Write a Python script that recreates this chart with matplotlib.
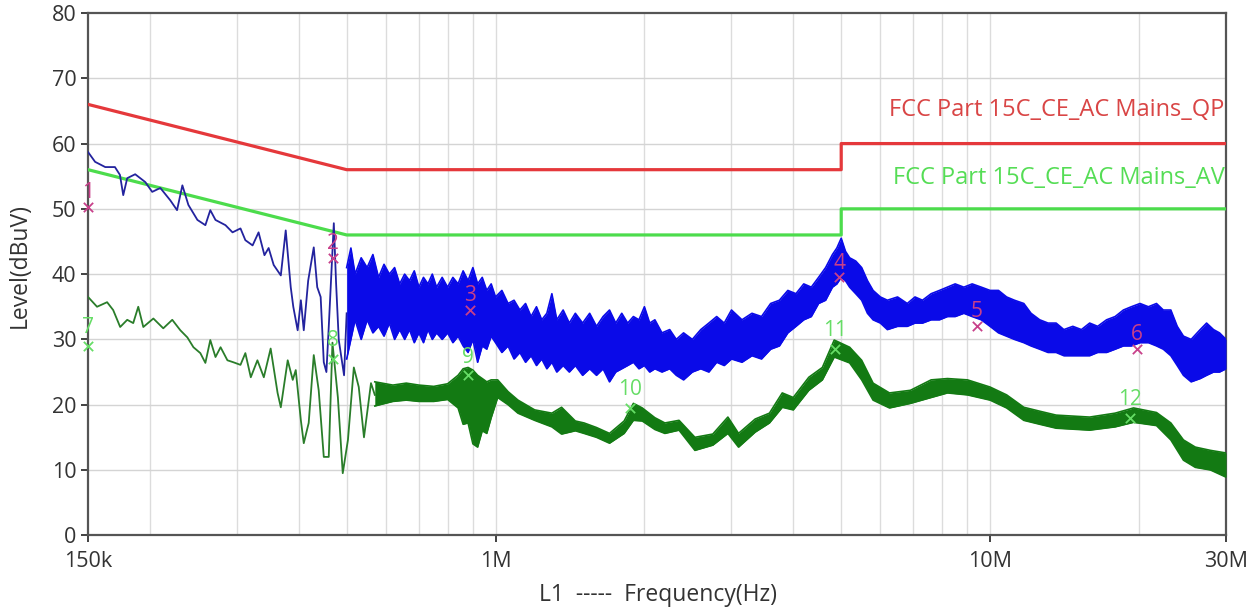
import matplotlib
matplotlib.use("Agg")
import matplotlib.pyplot as plt
from matplotlib.ticker import FixedLocator, NullFormatter

plt.rcParams['font.family'] = ['Open Sans', 'DejaVu Sans']

# limit lines (MHz, dBuV)
qp_f = [0.15, 0.5, 5.0, 5.0, 30.0]
qp_lv = [66, 56, 56, 60, 60]
av_f = [0.15, 0.5, 5.0, 5.0, 30.0]
av_lv = [56, 46, 46, 50, 50]

# peak trace, low frequency part (single line)
pk_f = [0.150, 0.155, 0.1625, 0.170, 0.174, 0.1767, 0.180, 0.1868, 0.1958, 0.2022,
        0.210, 0.220, 0.227, 0.2327, 0.2393, 0.2496, 0.259, 0.265, 0.2715, 0.2844,
        0.2939, 0.305, 0.312, 0.3227, 0.3318, 0.341, 0.3477, 0.356, 0.368, 0.3765,
        0.3854, 0.390, 0.398, 0.404, 0.4095, 0.418, 0.429, 0.436, 0.443, 0.4495,
        0.455, 0.460, 0.471, 0.476, 0.482, 0.494, 0.500]
pk_lv = [58.7, 57.2, 56.4, 56.4, 55.2, 52.1, 54.7, 55.3, 54.1, 52.6,
         53.2, 51.3, 49.8, 53.6, 50.6, 48.3, 47.5, 49.8, 48.3, 47.5,
         46.4, 47.0, 45.2, 44.4, 46.4, 42.9, 44.0, 41.4, 39.8, 46.7,
         38.0, 35.0, 31.4, 36.0, 31.4, 39.0, 44.1, 38.0, 36.5, 26.5,
         25.0, 31.9, 47.8, 38.6, 29.9, 24.5, 34.0]

# peak trace, dense part (upper / lower edge of the noise band)
pkb_f = [0.50, 0.51, 0.52, 0.535, 0.55, 0.565, 0.58, 0.595, 0.61, 0.625,
         0.64, 0.655, 0.67, 0.685, 0.70, 0.715, 0.73, 0.745, 0.76, 0.78,
         0.80, 0.82, 0.84, 0.86, 0.88, 0.90, 0.92, 0.94, 0.96, 0.98,
         1.00, 1.03, 1.06, 1.09, 1.12, 1.15, 1.18, 1.21, 1.24, 1.27,
         1.30, 1.33, 1.37, 1.41, 1.45, 1.50, 1.55, 1.60, 1.65, 1.70,
         1.75, 1.80, 1.85, 1.90, 1.95, 2.00, 2.05, 2.10, 2.17, 2.25,
         2.32, 2.40, 2.50, 2.60, 2.70, 2.80, 2.90, 3.00, 3.15, 3.30,
         3.45, 3.60, 3.75, 3.90, 4.05, 4.20, 4.35, 4.50, 4.65, 4.80,
         4.90, 5.00, 5.10, 5.20, 5.35, 5.50, 5.65, 5.80, 6.00, 6.20,
         6.50, 6.80, 7.05, 7.30, 7.60, 7.90, 8.20, 8.50, 8.85, 9.20,
         9.60, 10.0, 10.4, 10.8, 11.2, 11.7, 12.1, 12.6, 13.1, 13.6,
         14.1, 14.7, 15.3, 15.9, 16.5, 17.2, 17.9, 18.6, 19.3, 20.1,
         20.9, 21.7, 22.4, 23.2, 23.9, 24.6, 25.5, 26.6, 27.4, 28.3,
         29.1, 30.0]
pkb_hi = [41.0, 44.0, 40.0, 42.5, 41.0, 43.0, 39.5, 41.5, 40.0, 41.0,
          38.5, 40.0, 39.0, 40.5, 38.0, 39.5, 38.5, 40.0, 38.0, 39.5,
          38.0, 39.5, 38.5, 40.5, 39.0, 41.0, 38.5, 39.5, 37.5, 38.5,
          36.5, 37.5, 35.5, 36.0, 34.5, 35.5, 33.5, 35.0, 33.0, 34.0,
          37.0, 33.0, 34.5, 32.5, 34.0, 32.5, 34.0, 32.0, 33.5, 34.5,
          32.5, 34.0, 32.5, 33.5, 33.0, 35.0, 32.5, 33.0, 31.0, 31.5,
          30.0, 31.0, 30.0, 31.5, 32.5, 33.5, 32.5, 34.5, 33.0, 34.0,
          33.5, 35.5, 36.0, 37.5, 37.0, 38.5, 38.0, 39.5, 41.0, 43.0,
          44.0, 45.5, 43.5, 42.5, 42.0, 41.0, 39.0, 37.5, 36.5, 36.0,
          36.5, 35.5, 36.5, 36.0, 37.0, 37.5, 38.0, 38.5, 38.0, 38.5,
          38.0, 37.5, 37.5, 36.5, 36.0, 35.5, 34.0, 33.0, 32.5, 32.5,
          31.5, 32.0, 31.5, 32.5, 32.0, 33.0, 33.5, 34.5, 35.0, 35.5,
          35.0, 35.5, 34.5, 34.5, 32.0, 30.5, 30.0, 31.5, 32.5, 31.5,
          31.0, 30.0]
pkb_lo = [27.0, 30.0, 33.0, 30.0, 33.0, 31.0, 32.0, 30.5, 32.5, 30.0,
          31.5, 30.0, 31.5, 29.5, 31.0, 29.5, 31.5, 30.0, 31.0, 30.0,
          31.0, 29.5, 30.5, 29.0, 28.0, 30.0, 26.5, 29.0, 28.5, 30.5,
          29.5, 28.0, 29.0, 27.0, 28.0, 26.5, 27.5, 26.0, 27.0, 25.5,
          26.5, 25.0, 26.0, 25.0, 26.0, 24.5, 25.5, 24.5, 25.5, 23.5,
          25.0, 25.5, 26.0, 26.5, 25.5, 26.0, 25.0, 25.5, 25.0, 25.5,
          24.5, 23.8, 25.0, 25.5, 25.0, 26.5, 26.0, 27.0, 26.5, 27.5,
          27.0, 28.5, 29.0, 31.0, 32.0, 33.0, 33.5, 35.5, 36.0, 38.0,
          38.5, 39.5, 39.0, 38.0, 37.0, 36.0, 34.0, 33.0, 32.5, 31.5,
          32.0, 32.0, 32.5, 32.5, 33.0, 33.0, 33.5, 33.5, 34.0, 33.5,
          33.0, 32.0, 31.0, 30.5, 30.0, 29.5, 29.0, 28.5, 28.0, 28.0,
          27.5, 27.5, 27.5, 27.5, 28.0, 28.0, 28.5, 29.0, 29.0, 29.5,
          29.5, 29.0, 28.5, 27.5, 26.0, 24.5, 23.5, 24.0, 24.5, 25.0,
          25.0, 25.5]

# average trace, low frequency part
av1_f = [0.150, 0.1564, 0.1639, 0.1686, 0.1742, 0.180, 0.1851, 0.1895, 0.194, 0.2033,
         0.2129, 0.222, 0.2305, 0.2382, 0.245, 0.253, 0.259, 0.265, 0.2715, 0.278,
         0.287, 0.295, 0.305, 0.312, 0.320, 0.330, 0.340, 0.351, 0.3625, 0.368,
         0.380, 0.389, 0.3945, 0.404, 0.4095, 0.419, 0.429, 0.439, 0.4495, 0.460,
         0.468, 0.480, 0.491, 0.503, 0.517, 0.529, 0.542, 0.560, 0.570]
av1_lv = [36.5, 35.0, 35.7, 34.5, 31.9, 33.0, 32.5, 35.0, 31.9, 33.2,
          31.7, 33.0, 31.4, 30.3, 28.8, 27.9, 26.4, 29.9, 27.3, 28.8,
          26.8, 26.5, 26.1, 27.9, 24.2, 26.8, 24.2, 28.6, 21.8, 19.6,
          26.8, 23.8, 25.3, 17.6, 14.1, 17.2, 27.6, 22.2, 12.0, 12.0,
          29.5, 21.1, 9.5, 14.6, 25.7, 22.7, 15.0, 23.3, 21.5]

# average trace, dense part
avb_f = [0.57, 0.62, 0.66, 0.70, 0.75, 0.80, 0.84, 0.86, 0.88, 0.90,
         0.92, 0.94, 0.96, 0.98, 1.01, 1.06, 1.11, 1.20, 1.30, 1.36,
         1.45, 1.51, 1.60, 1.70, 1.82, 1.90, 1.98, 2.10, 2.20, 2.35,
         2.53, 2.75, 2.95, 3.10, 3.35, 3.58, 3.80, 4.00, 4.30, 4.58,
         4.84, 5.20, 5.50, 5.80, 6.26, 6.90, 7.60, 8.20, 9.00, 10.0,
         10.8, 11.7, 12.6, 13.6, 15.9, 17.9, 19.5, 21.7, 23.2, 24.6,
         26.0, 27.9, 30.0]
avb_hi = [23.5, 23.0, 23.3, 23.0, 22.8, 23.2, 24.5, 25.5, 25.7, 25.3,
          24.5, 24.0, 23.5, 23.8, 23.8, 22.0, 20.7, 19.2, 18.7, 19.6,
          17.5, 17.2, 16.5, 15.6, 17.5, 20.2, 19.5, 18.0, 17.2, 17.6,
          15.0, 15.5, 18.1, 15.6, 17.8, 18.7, 21.8, 21.1, 24.2, 25.7,
          29.9, 28.8, 26.8, 23.3, 21.8, 22.2, 23.8, 24.0, 23.8, 22.7,
          21.5, 19.6, 19.0, 18.4, 18.1, 18.7, 19.5, 18.8, 17.2, 14.6,
          13.5, 13.0, 12.6]
avb_lo = [19.8, 20.5, 20.7, 20.5, 20.5, 20.8, 19.5, 17.0, 17.2, 14.0,
          13.5, 16.0, 15.6, 18.0, 21.1, 20.0, 18.7, 17.6, 16.6, 15.5,
          16.0, 15.6, 15.0, 14.1, 15.6, 17.6, 17.5, 16.2, 15.6, 16.1,
          13.0, 13.8, 15.6, 13.5, 15.8, 17.2, 19.6, 19.2, 22.2, 23.8,
          27.3, 26.4, 23.8, 20.7, 19.5, 20.2, 21.1, 21.8, 21.5, 20.7,
          19.5, 17.6, 17.0, 16.4, 16.1, 16.6, 17.3, 16.8, 14.6, 11.5,
          10.4, 10.0, 8.9]

# markers
pk_mark_f = [0.15, 0.47, 0.89, 4.95, 9.4, 19.8]
pk_mark_lv = [50.3, 42.5, 34.5, 39.5, 32.0, 28.5]
pk_mark_no = ["1", "2", "3", "4", "5", "6"]
av_mark_f = [0.15, 0.47, 0.88, 1.87, 4.85, 19.2]
av_mark_lv = [29.0, 27.0, 24.5, 19.5, 28.5, 18.0]
av_mark_no = ["7", "8", "9", "10", "11", "12"]

fig = plt.figure(figsize=(12.58, 6.11), dpi=100)
ax = fig.add_axes([0.070, 0.124, 0.9046, 0.8547])

ax.plot(qp_f, qp_lv, color="#e5383b", lw=2.3, zorder=3)
ax.plot(av_f, av_lv, color="#4cdc4c", lw=2.3, zorder=3)

ax.plot(pk_f, pk_lv, color="#23239e", lw=1.3, zorder=4)
ax.fill_between(pkb_f, pkb_lo, pkb_hi, color="#0a0ae8", lw=0, zorder=4)
ax.plot(pkb_f, pkb_hi, color="#0a0ae8", lw=1.2, zorder=4)
ax.plot(pkb_f, pkb_lo, color="#0a0ae8", lw=1.2, zorder=4)

ax.plot(av1_f, av1_lv, color="#2a7d2a", lw=1.3, zorder=5)
ax.fill_between(avb_f, avb_lo, avb_hi, color="#137a13", lw=0, zorder=5)
ax.plot(avb_f, avb_hi, color="#137a13", lw=1.2, zorder=5)
ax.plot(avb_f, avb_lo, color="#137a13", lw=1.2, zorder=5)

ax.scatter(pk_mark_f, pk_mark_lv, marker="x", s=45, color="#c8408a", lw=1.3, zorder=6, clip_on=False)
for f, lv, n in zip(pk_mark_f, pk_mark_lv, pk_mark_no):
    ax.text(f, lv + 2.2, n, color="#c8408a", fontsize=15, ha="center", va="center", zorder=6)
ax.scatter(av_mark_f, av_mark_lv, marker="x", s=45, color="#66dd66", lw=1.3, zorder=6, clip_on=False)
for f, lv, n in zip(av_mark_f, av_mark_lv, av_mark_no):
    ax.text(f, lv + 2.8, n, color="#66dd66", fontsize=15, ha="center", va="center", zorder=6)

ax.text(29.8, 65.2, "FCC Part 15C_CE_AC Mains_QP", color="#d94545", fontsize=17,
        ha="right", va="center", zorder=6)
ax.text(29.8, 54.7, "FCC Part 15C_CE_AC Mains_AV", color="#55dd55", fontsize=17,
        ha="right", va="center", zorder=6)

ax.set_xscale("log")
ax.set_xlim(0.15, 30)
ax.set_ylim(0, 80)
ax.xaxis.set_major_locator(FixedLocator([0.15, 1, 10, 30]))
ax.set_xticklabels(["150k", "1M", "10M", "30M"])
ax.xaxis.set_minor_locator(FixedLocator([]))
ax.xaxis.set_minor_formatter(NullFormatter())
ax.set_yticks(range(0, 81, 10))

grid_f = [0.2, 0.3, 0.4, 0.5, 0.6, 0.7, 0.8, 0.9, 1, 2, 3, 4, 5, 6, 7, 8, 9, 10, 20]
for g in grid_f:
    ax.axvline(g, color="#dcdcdc", lw=1.0, zorder=1)
for g in range(10, 80, 10):
    ax.axhline(g, color="#d4d4d4", lw=1.0, zorder=1)

for s in ax.spines.values():
    s.set_color("#555555")
    s.set_linewidth(1.6)
ax.tick_params(axis="both", colors="#333333", labelsize=15.5, length=5, width=1.3, direction="out")
ax.tick_params(axis="x", pad=6)

ax.set_ylabel("Level(dBuV)", fontsize=16.5, color="#333333")
ax.yaxis.set_label_coords(-0.060, 0.517)
ax.yaxis.label.set_va("center")
ax.set_xlabel("L1  -----  Frequency(Hz)", fontsize=16.5, color="#333333")
ax.xaxis.set_label_coords(0.501, -0.115)
ax.xaxis.label.set_va("center")

fig.savefig("out.png", dpi=100, facecolor="white")
